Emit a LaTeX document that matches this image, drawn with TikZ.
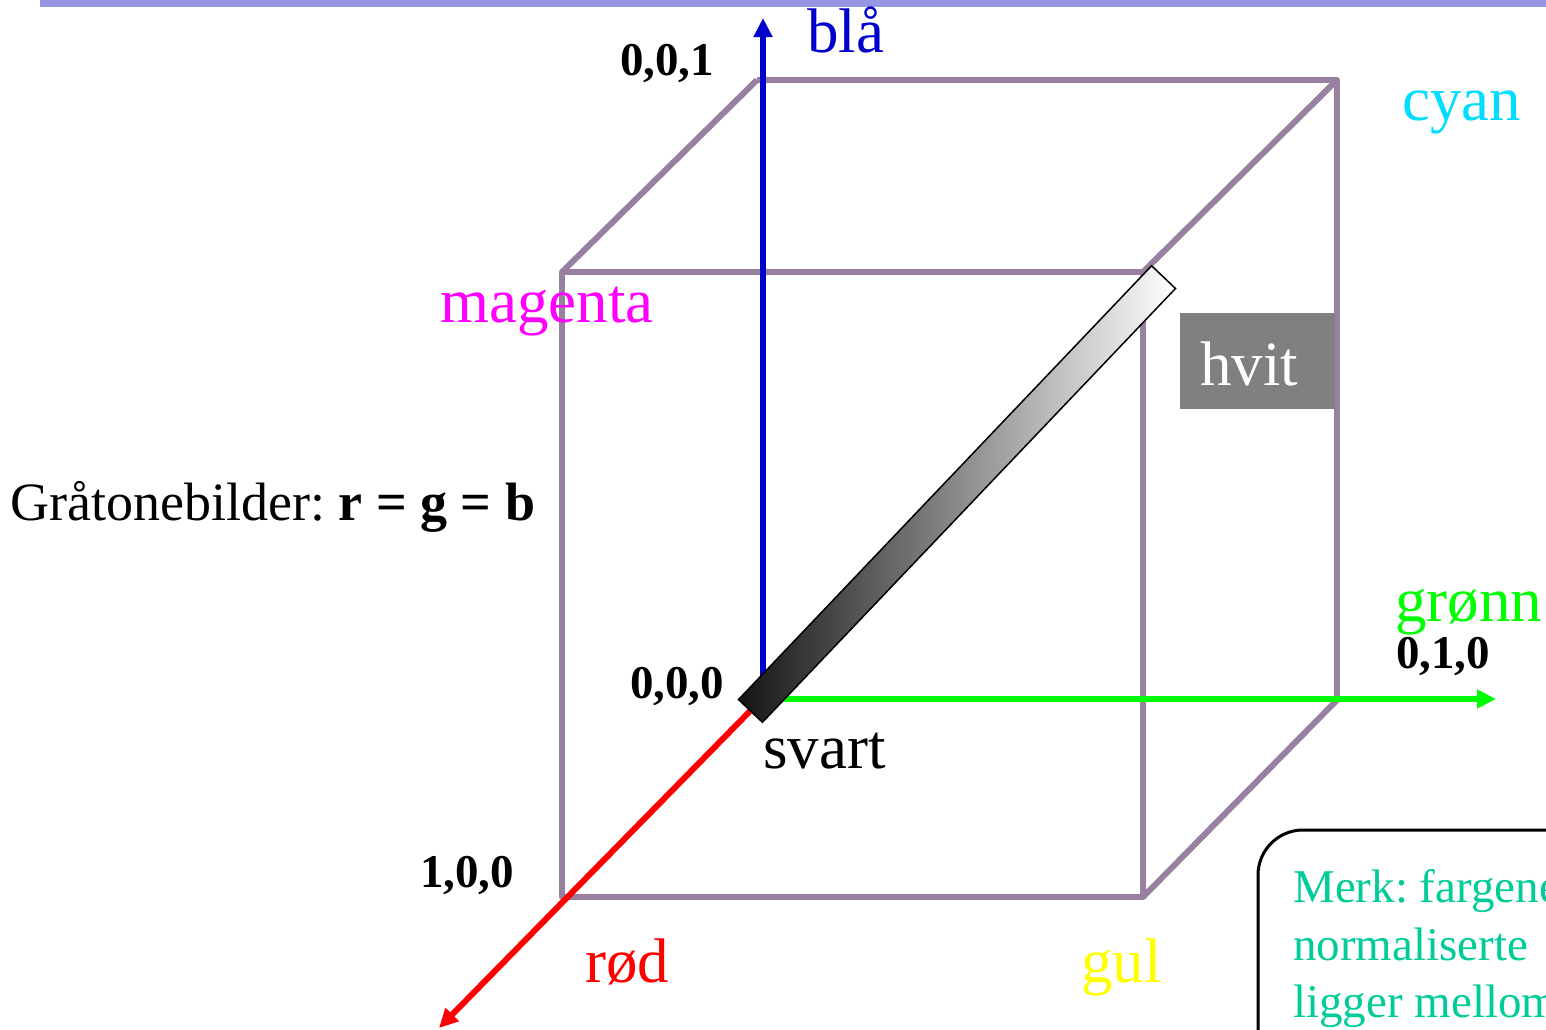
\documentclass[tikz,border=0pt]{standalone}
\usepackage{fontspec}
\setmainfont{Liberation Serif}
\frenchspacing
\usetikzlibrary{arrows.meta}
\definecolor{cubec}{RGB}{152,128,160}
\definecolor{axblue}{RGB}{0,0,204}
\definecolor{axgreen}{RGB}{0,255,0}
\definecolor{axred}{RGB}{255,0,0}
\definecolor{magc}{RGB}{255,0,255}
\definecolor{cyanc}{RGB}{0,221,255}
\definecolor{yelc}{RGB}{255,255,0}
\definecolor{tealc}{RGB}{0,204,153}
\definecolor{barc}{RGB}{150,150,228}
\definecolor{hvitbg}{RGB}{128,128,128}
\tikzset{
  edge/.style={draw=cubec, line width=6pt, line join=round},
  axis/.style={line width=6pt, -{Triangle[length=19pt,width=18pt]}},
  big/.style={font=\fontsize{63}{70}\selectfont, inner sep=0pt, anchor=base west},
  coord/.style={font=\fontsize{47}{52}\selectfont\bfseries, inner sep=0pt, anchor=base west},
  mid/.style={font=\fontsize{54}{60}\selectfont, inner sep=0pt, anchor=base west},
  note/.style={font=\fontsize{47}{57}\selectfont, text=tealc, inner sep=0pt, anchor=base west, align=left}
}
\begin{document}
\begin{tikzpicture}[x=1pt,y=-1pt]
\useasboundingbox (0,0) rectangle (1546,1029);
\clip (0,0) rectangle (1546,1029);
% top bar
\fill[barc] (40,0) rectangle (1546,6.5);
% cube corners
\coordinate (b00) at (757,700);
\coordinate (b01) at (757,80);
\coordinate (b11) at (1337,80);
\coordinate (b10) at (1337,700);
\coordinate (f01) at (562,272);
\coordinate (f11) at (1143,272);
\coordinate (f10) at (1143,897);
\coordinate (f00) at (562,897);
% cube edges
\draw[edge] (b01) -- (b11) -- (b10);
\draw[edge] (f01) -- (f11) -- (f10) -- (f00) -- cycle;
\draw[edge] (b01) -- (f01);
\draw[edge] (b11) -- (f11);
\draw[edge] (b10) -- (f10);
% axes
\coordinate (ztip) at (763,18);
\coordinate (ytip) at (1496,699);
\coordinate (xtip) at (439,1028);
\coordinate (zstart) at (763,690);
\coordinate (ystart) at (763,699);
\coordinate (xstart) at (755,706);
\draw[axis, axblue] (zstart) -- (ztip);
\draw[axis, axgreen] (ystart) -- (ytip);
\draw[axis, axred] (xstart) -- (xtip);
% grey diagonal bar
\node (bar) [draw=black, line width=1.5pt, minimum width=599pt, minimum height=33pt,
  rotate=46.4, left color=black!92, right color=white, inner sep=0pt] at (957,494) {};
% hvit box
\node (hvit) [fill=hvitbg, minimum width=155pt, minimum height=96pt, inner sep=0pt, anchor=north west] at (1180,313) {};
\node (hvitt) [big, text=white] at (1200,385) {hvit};
% labels
\node (bla) [big, text=axblue] at (807,52) {blå};
\node (c001) [coord] at (620,75) {0,0,1};
\node (cyan) [big, text=cyanc] at (1402,120) {cyan};
\node (mag) [big, text=magc] at (440,322) {magenta};
\node (gra) [mid] at (10,520) {Gråtonebilder: \textbf{r = g = b}};
\node (gronn) [big, text=axgreen] at (1395,621) {grønn};
\node (c010) [coord] at (1396,668) {0,1,0};
\node (c000) [coord] at (630,698) {0,0,0};
\node (svart) [big] at (763,768) {svart};
\node (c100) [coord] at (420,887) {1,0,0};
\node (rod) [big, text=axred] at (585,982) {rød};
\node (gul) [big, text=yelc] at (1081,982) {gul};
% note box
\draw[line width=3pt, rounded corners=45pt] (1258,1100) -- (1258,830) -- (1620,830);
\node (n1) [note] at (1293,902) {Merk: fargene};
\node (n2) [note] at (1293,960) {normaliserte};
\node (n3) [note] at (1293,1017) {ligger mellom};
\end{tikzpicture}
\end{document}
